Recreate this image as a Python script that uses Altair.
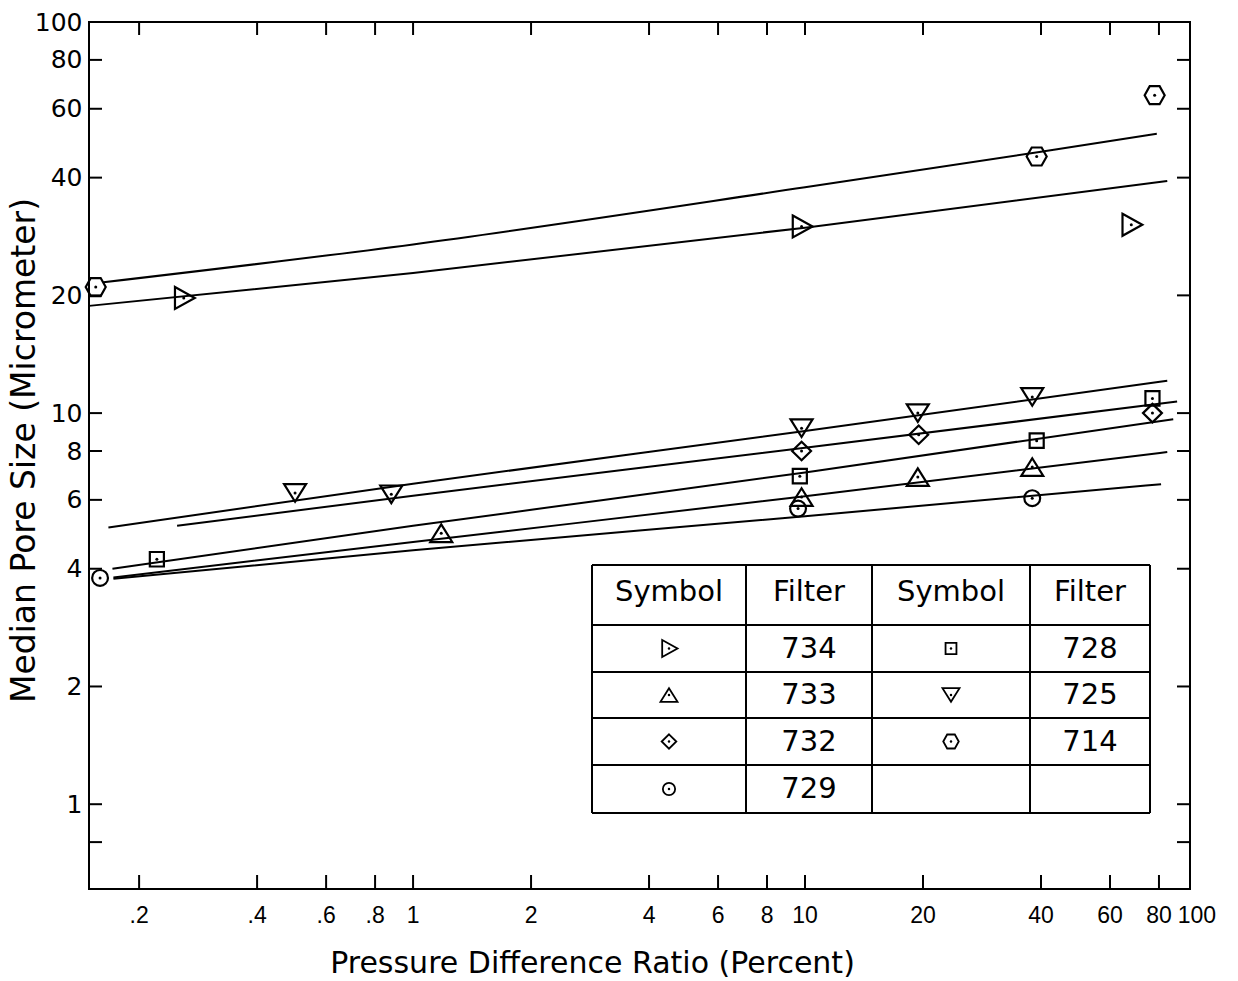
import altair as alt
import pandas as pd

# ---------------- data ----------------
filters = ["734", "733", "732", "729", "728", "725", "714"]

# measured points (x = pressure difference ratio %, y = median pore size um)
p734_x = [0.26, 9.8, 68.0]
p734_y = [19.7, 30.0, 30.3]
p733_x = [1.18, 9.8, 19.4, 38.0]
p733_y = [4.93, 6.1, 6.86, 7.28]
p732_x = [9.8, 19.5, 77.0]
p732_y = [8.0, 8.8, 10.0]
p729_x = [0.159, 9.6, 38.0]
p729_y = [3.79, 5.7, 6.06]
p728_x = [0.222, 9.7, 39.0, 77.0]
p728_y = [4.23, 6.9, 8.5, 10.9]
p725_x = [0.5, 0.88, 9.8, 19.4, 38.0]
p725_y = [6.25, 6.2, 9.15, 10.0, 11.0]
p714_x = [0.155, 39.0, 78.0]
p714_y = [21.0, 45.3, 65.0]

# fitted curves
l734_x = [0.149, 1.0, 10.0, 84.0]
l734_y = [18.8, 22.8, 29.8, 39.2]
l733_x = [0.172, 1.0, 10.0, 84.0]
l733_y = [3.8, 4.68, 6.13, 7.95]
l732_x = [0.25, 1.0, 10.0, 89.0]
l732_y = [5.15, 6.15, 8.15, 10.7]
l729_x = [0.172, 1.0, 10.0, 81.0]
l729_y = [3.77, 4.46, 5.45, 6.58]
l728_x = [0.171, 1.0, 10.0, 87.0]
l728_y = [4.0, 5.15, 7.05, 9.65]
l725_x = [0.167, 1.0, 10.0, 84.0]
l725_y = [5.1, 6.6, 9.0, 12.1]
l714_x = [0.162, 1.0, 10.0, 40.0, 79.0]
l714_y = [21.6, 27.0, 37.8, 46.6, 51.8]

# axis ticks / labels
x_tick_values = [0.2, 0.4, 0.6, 0.8, 1, 2, 4, 6, 8, 10, 20, 40, 60, 80]
x_label_values = [0.2, 0.4, 0.6, 0.8, 1, 2, 4, 6, 8, 10, 20, 40, 60, 80, 100]
x_label_texts = [".2", ".4", ".6", ".8", "1", "2", "4", "6", "8", "10", "20", "40", "60", "80", "100"]
y_tick_values = [0.8, 1, 2, 4, 6, 8, 10, 20, 40, 60, 80]
y_label_values = [1, 2, 4, 6, 8, 10, 20, 40, 60, 80, 100]

x_title = "Pressure Difference Ratio (Percent)"
y_title = "Median Pore Size (Micrometer)"
table_header = ["Symbol", "Filter", "Symbol", "Filter"]

# ---------------- layout / style ----------------
W, H = 1101, 867
PAD = {"left": 89, "top": 22, "right": 1238 - 89 - W, "bottom": 981 - 22 - H}
FONT = "DejaVu Sans"
XTICK_FONT = "Liberation Sans"
YTICK_FONT = "DejaVu Sans"

xscale = alt.Scale(type="log", domain=[0.149, 96], nice=False)
yscale = alt.Scale(type="log", domain=[0.607, 100], nice=False)

shape_paths = {
    "734": "M-0.8,-1L1,0L-0.8,1Z",
    "733": "M0,-0.8L1,0.8L-1,0.8Z",
    "732": "M0,-0.84L0.86,0L0,0.84L-0.86,0Z",
    "729": "M-0.72,0A0.72,0.72,0,1,0,0.72,0A0.72,0.72,0,1,0,-0.72,0Z",
    "728": "M-0.64,-0.66L0.64,-0.66L0.64,0.66L-0.64,0.66Z",
    "725": "M-1,-0.8L1,-0.8L0,0.8Z",
    "714": "M-0.91,0L-0.45,-0.82L0.45,-0.82L0.91,0L0.45,0.82L-0.45,0.82Z",
}
shape_scale = alt.Scale(domain=filters, range=[shape_paths[f] for f in filters])

# ---------------- frames ----------------
pts = {"734": (p734_x, p734_y), "733": (p733_x, p733_y), "732": (p732_x, p732_y),
       "729": (p729_x, p729_y), "728": (p728_x, p728_y), "725": (p725_x, p725_y),
       "714": (p714_x, p714_y)}
lns = {"734": (l734_x, l734_y), "733": (l733_x, l733_y), "732": (l732_x, l732_y),
       "729": (l729_x, l729_y), "728": (l728_x, l728_y), "725": (l725_x, l725_y),
       "714": (l714_x, l714_y)}

points_df = pd.DataFrame([{"filter": f, "x": x, "y": y}
                          for f in filters for x, y in zip(*pts[f])])
lines_df = pd.DataFrame([{"filter": f, "x": x, "y": y, "o": i}
                         for f in filters for i, (x, y) in enumerate(zip(*lns[f]))])
xt_df = pd.DataFrame({"v": x_tick_values})
yt_df = pd.DataFrame({"v": y_tick_values})
xl_df = pd.DataFrame({"v": x_label_values, "label": x_label_texts})

# legend table (pixel layout inside the plot area)
COLS = [503, 657, 783, 941, 1061]
ROWS = [543, 603, 650, 696, 743, 791]
grid = []
for r in ROWS:
    grid.append({"x": COLS[0], "x2": COLS[-1], "y": r, "y2": r})
for c in COLS:
    grid.append({"x": c, "x2": c, "y": ROWS[0], "y2": ROWS[-1]})
grid_df = pd.DataFrame(grid)

col_c = [(COLS[i] + COLS[i + 1]) / 2 for i in range(4)]
row_c = [(ROWS[i] + ROWS[i + 1]) / 2 for i in range(5)]
texts, syms = [], []
for j, h in enumerate(table_header):
    texts.append({"px": col_c[j], "py": row_c[0] - 3, "t": h})
left, right = filters[:4], filters[4:]
for i, f in enumerate(left):
    texts.append({"px": col_c[1], "py": row_c[i + 1], "t": f})
    syms.append({"px": col_c[0], "py": row_c[i + 1], "filter": f})
for i, f in enumerate(right):
    texts.append({"px": col_c[3], "py": row_c[i + 1], "t": f})
    syms.append({"px": col_c[2], "py": row_c[i + 1], "filter": f})
text_df = pd.DataFrame(texts)
sym_df = pd.DataFrame(syms)

# ---------------- layers ----------------
X = lambda: alt.X("x:Q", scale=xscale, axis=None)
Y = lambda: alt.Y("y:Q", scale=yscale, axis=None)

lines = alt.Chart(lines_df).mark_line(color="black", strokeWidth=2, interpolate="monotone").encode(
    x=alt.X("x:Q", scale=xscale, axis=alt.Axis(
        labels=False, ticks=False, domain=False, grid=False,
        title=x_title, titleFont=FONT, titleFontSize=30, titleFontWeight="normal",
        titleColor="black", titleX=503, titleY=74, titleAlign="center",
        titleBaseline="middle", titleAngle=0)),
    y=alt.Y("y:Q", scale=yscale, axis=alt.Axis(
        values=y_label_values, format="d", ticks=False, tickSize=0, domain=False, grid=False,
        labelFont=YTICK_FONT, labelFontSize=25, labelColor="black", labelPadding=7,
        labelOverlap=False, labelFlush=False, labelBaseline="middle",
        title=y_title, titleFont=FONT, titleFontSize=33, titleFontWeight="normal",
        titleColor="black", titleX=-65, titleY=428, titleAngle=270,
        titleAlign="center", titleBaseline="middle")),
    detail="filter:N",
    order="o:Q",
)

markers = alt.Chart(points_df).mark_point(
    filled=False, color="black", strokeWidth=2.2, size=484, opacity=1
).encode(x=X(), y=Y(), shape=alt.Shape("filter:N", scale=shape_scale, legend=None))

dots = alt.Chart(points_df).mark_circle(color="black", size=9, opacity=1).encode(x=X(), y=Y())

V = lambda: alt.X("v:Q", scale=xscale, axis=None)
VY = lambda: alt.Y("v:Q", scale=yscale, axis=None)
tk_bottom = alt.Chart(xt_df).mark_rule(color="black", strokeWidth=2).encode(
    x=V(), y=alt.value(H - 14), y2=alt.value(H))
tk_top = alt.Chart(xt_df).mark_rule(color="black", strokeWidth=2).encode(
    x=V(), y=alt.value(0), y2=alt.value(13))
tk_left = alt.Chart(yt_df).mark_rule(color="black", strokeWidth=2).encode(
    y=VY(), x=alt.value(0), x2=alt.value(13))
tk_right = alt.Chart(yt_df).mark_rule(color="black", strokeWidth=2).encode(
    y=VY(), x=alt.value(W - 13), x2=alt.value(W))

xlabels = alt.Chart(xl_df).mark_text(
    font=XTICK_FONT, fontSize=23, color="black", baseline="middle", align="center"
).encode(x=V(), y=alt.value(H + 27), text="label:N")

PX = lambda f: alt.X(f"{f}:Q", scale=None, axis=None)
PY = lambda f: alt.Y(f"{f}:Q", scale=None, axis=None)

table_grid = alt.Chart(grid_df).mark_rule(color="black", strokeWidth=2).encode(
    x=PX("x"), x2="x2:Q", y=PY("y"), y2="y2:Q")
table_text = alt.Chart(text_df).mark_text(
    font=FONT, fontSize=29, color="black", baseline="middle", align="center"
).encode(x=PX("px"), y=PY("py"), text="t:N")
table_syms = alt.Chart(sym_df).mark_point(
    filled=False, color="black", strokeWidth=1.8, size=290, opacity=1
).encode(x=PX("px"), y=PY("py"), shape=alt.Shape("filter:N", scale=shape_scale, legend=None))
table_dots = alt.Chart(sym_df).mark_circle(color="black", size=6, opacity=1).encode(
    x=PX("px"), y=PY("py"))

chart = alt.layer(
    lines, markers, dots, tk_bottom, tk_top, tk_left, tk_right, xlabels,
    table_grid, table_text, table_syms, table_dots
).resolve_scale(x="independent", y="independent").properties(
    width=W, height=H, padding=PAD, autosize=alt.AutoSizeParams(type="none"),
    background="white"
).configure_view(stroke="black", strokeWidth=2)

chart.save("out.html", embed_options={"renderer": "svg", "actions": False})
